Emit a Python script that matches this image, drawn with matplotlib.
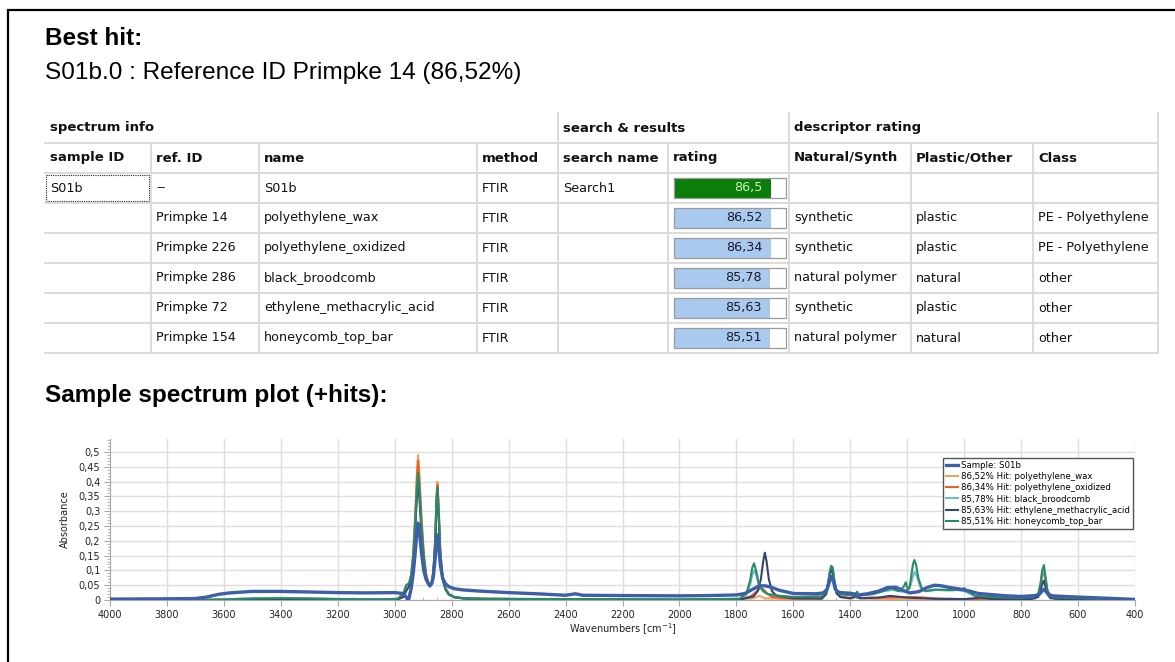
import matplotlib
matplotlib.use("Agg")
import matplotlib.pyplot as plt
from matplotlib.patches import Rectangle
from matplotlib.ticker import MultipleLocator, FuncFormatter

W, H = 1175, 662

# ---- report text / table data ----
best_hit_title = "Best hit:"
best_hit_line = "S01b.0 : Reference ID Primpke 14 (86,52%)"
plot_title = "Sample spectrum plot (+hits):"

group_headers = ["spectrum info", "search & results", "descriptor rating"]
col_headers = ["sample ID", "ref. ID", "name", "method", "search name", "rating",
               "Natural/Synth", "Plastic/Other", "Class"]
sample_ids = ["S01b", "", "", "", "", ""]
ref_ids = ["--", "Primpke 14", "Primpke 226", "Primpke 286", "Primpke 72", "Primpke 154"]
names = ["S01b", "polyethylene_wax", "polyethylene_oxidized", "black_broodcomb",
         "ethylene_methacrylic_acid", "honeycomb_top_bar"]
methods = ["FTIR", "FTIR", "FTIR", "FTIR", "FTIR", "FTIR"]
search_names = ["Search1", "", "", "", "", ""]
ratings = [86.5, 86.52, 86.34, 85.78, 85.63, 85.51]
rating_labels = ["86,5", "86,52", "86,34", "85,78", "85,63", "85,51"]
natural_synth = ["", "synthetic", "synthetic", "natural polymer", "synthetic", "natural polymer"]
plastic_other = ["", "plastic", "plastic", "natural", "plastic", "natural"]
classes = ["", "PE - Polyethylene", "PE - Polyethylene", "other", "other", "other"]

# ---- spectra (wavenumber, absorbance) ----
sample_wn = [4000, 3800, 3700, 3660, 3620, 3580, 3500, 3400, 3300, 3200, 3100, 3000,
             2990, 2970, 2960, 2952, 2942, 2935, 2928, 2922, 2918, 2913, 2906, 2898, 2890,
             2882, 2876, 2870, 2864, 2858, 2853, 2850, 2846, 2840, 2832, 2822, 2810, 2790,
             2760, 2700, 2600, 2500, 2400, 2365, 2340, 2200, 2000, 1900, 1800, 1770, 1745,
             1720, 1700, 1680, 1650, 1600, 1520, 1495, 1482, 1474, 1467, 1460, 1452, 1440,
             1420, 1400, 1385, 1376, 1365, 1340, 1300, 1270, 1240, 1215, 1190, 1160, 1130,
             1105, 1080, 1050, 1020, 1000, 980, 950, 900, 850, 800, 750, 735, 726, 720,
             714, 705, 690, 650, 600, 500, 400]
sample_abs = [0.003, 0.004, 0.005, 0.010, 0.019, 0.024, 0.029, 0.029, 0.027, 0.025, 0.024,
              0.025, 0.024, 0.022, 0.01, -0.003, 0.04, 0.09, 0.16, 0.23, 0.26, 0.23, 0.16,
              0.10, 0.07, 0.055, 0.05, 0.055, 0.08, 0.14, 0.20, 0.22, 0.19, 0.12, 0.075,
              0.055, 0.045, 0.038, 0.034, 0.030, 0.025, 0.021, 0.016, 0.021, 0.016, 0.015,
              0.014, 0.015, 0.017, 0.022, 0.035, 0.048, 0.048, 0.044, 0.033, 0.022, 0.021,
              0.024, 0.035, 0.06, 0.08, 0.065, 0.035, 0.026, 0.024, 0.023, 0.02, 0.01,
              0.018, 0.021, 0.03, 0.042, 0.043, 0.032, 0.024, 0.028, 0.042, 0.05, 0.048,
              0.042, 0.038, 0.034, 0.03, 0.022, 0.018, 0.014, 0.012, 0.015, 0.02, 0.03,
              0.036, 0.03, 0.02, 0.014, 0.012, 0.010, 0.006, 0.002]

wax_wn = [4000, 3100, 3000, 2990, 2970, 2960, 2950, 2942, 2935, 2928, 2922, 2918, 2913,
          2906, 2898, 2890, 2882, 2876, 2870, 2864, 2858, 2853, 2850, 2846, 2840, 2832,
          2822, 2810, 2790, 2760, 2700, 2000, 1780, 1740, 1720, 1700, 1600, 1500, 1485,
          1478, 1472, 1467, 1462, 1456, 1448, 1435, 1400, 1385, 1378, 1370, 1300, 1000,
          800, 760, 740, 732, 726, 720, 715, 708, 698, 680, 600, 400]
wax_abs = [0.0, 0.0, 0.001, 0.002, 0.012, 0.035, 0.05, 0.09, 0.16, 0.29, 0.43, 0.49, 0.42,
           0.28, 0.16, 0.09, 0.06, 0.05, 0.06, 0.10, 0.21, 0.36, 0.40, 0.33, 0.17, 0.08,
           0.04, 0.02, 0.01, 0.006, 0.004, 0.0, 0.002, 0.006, 0.014, 0.006, 0.002, 0.004,
           0.02, 0.05, 0.09, 0.11, 0.105, 0.06, 0.025, 0.01, 0.004, 0.008, 0.012, 0.005,
           0.003, 0.002, 0.004, 0.006, 0.015, 0.045, 0.085, 0.10, 0.07, 0.03, 0.01, 0.005,
           0.002, 0.0]

oxid_wn = [4000, 3100, 3000, 2990, 2970, 2960, 2950, 2942, 2935, 2928, 2922, 2918, 2913,
           2906, 2898, 2890, 2882, 2876, 2870, 2864, 2858, 2853, 2850, 2846, 2840, 2832,
           2822, 2810, 2790, 2760, 2700, 2000, 1790, 1750, 1735, 1722, 1714, 1705, 1692,
           1675, 1600, 1500, 1485, 1478, 1472, 1467, 1462, 1456, 1448, 1435, 1400, 1385,
           1378, 1370, 1300, 1250, 1200, 1150, 1100, 1000, 800, 760, 740, 732, 726, 720,
           715, 708, 698, 680, 600, 400]
oxid_abs = [0.0, 0.0, 0.001, 0.002, 0.012, 0.034, 0.048, 0.086, 0.155, 0.28, 0.41, 0.47,
            0.40, 0.27, 0.155, 0.087, 0.058, 0.05, 0.06, 0.10, 0.20, 0.35, 0.39, 0.32,
            0.165, 0.078, 0.04, 0.02, 0.01, 0.006, 0.004, 0.0, 0.003, 0.012, 0.024, 0.036,
            0.04, 0.036, 0.022, 0.01, 0.004, 0.005, 0.02, 0.05, 0.092, 0.115, 0.108, 0.062,
            0.026, 0.012, 0.006, 0.01, 0.014, 0.007, 0.008, 0.009, 0.01, 0.009, 0.005,
            0.003, 0.004, 0.006, 0.014, 0.04, 0.08, 0.095, 0.068, 0.03, 0.01, 0.005, 0.002,
            0.0]

brood_wn = [4000, 3700, 3600, 3500, 3400, 3300, 3200, 3050, 2990, 2970, 2960, 2950, 2942,
            2935, 2928, 2922, 2918, 2913, 2906, 2898, 2890, 2882, 2876, 2870, 2864, 2858,
            2853, 2850, 2846, 2840, 2832, 2822, 2810, 2790, 2760, 2700, 2000, 1790, 1765,
            1752, 1744, 1737, 1730, 1720, 1705, 1690, 1650, 1600, 1500, 1485, 1478, 1472,
            1467, 1462, 1456, 1448, 1435, 1400, 1378, 1365, 1320, 1280, 1250, 1220, 1198,
            1188, 1180, 1174, 1166, 1155, 1140, 1120, 1100, 1060, 1030, 1000, 960, 900, 800,
            760, 740, 732, 726, 720, 715, 708, 698, 680, 600, 400]
brood_abs = [0.0, 0.0, 0.002, 0.006, 0.007, 0.006, 0.004, 0.002, 0.004, 0.02, 0.045, 0.05,
             0.08, 0.14, 0.25, 0.37, 0.42, 0.36, 0.24, 0.14, 0.08, 0.055, 0.048, 0.058,
             0.095, 0.19, 0.33, 0.37, 0.30, 0.155, 0.075, 0.038, 0.02, 0.01, 0.006, 0.004,
             0.002, 0.004, 0.018, 0.05, 0.085, 0.10, 0.085, 0.045, 0.028, 0.02, 0.014,
             0.01, 0.012, 0.025, 0.055, 0.09, 0.11, 0.105, 0.065, 0.03, 0.02, 0.016, 0.022,
             0.015, 0.02, 0.03, 0.034, 0.028, 0.035, 0.05, 0.08, 0.095, 0.08, 0.045, 0.03,
             0.03, 0.034, 0.032, 0.034, 0.03, 0.012, 0.01, 0.008, 0.01, 0.018, 0.05, 0.09,
             0.105, 0.075, 0.032, 0.012, 0.008, 0.006, 0.001]

ema_wn = [4000, 3400, 3000, 2990, 2970, 2960, 2950, 2942, 2935, 2928, 2922, 2918, 2913,
          2906, 2898, 2890, 2882, 2876, 2870, 2864, 2858, 2853, 2850, 2846, 2840, 2832,
          2822, 2810, 2790, 2760, 2700, 2000, 1780, 1740, 1725, 1714, 1706, 1700, 1694,
          1686, 1675, 1660, 1600, 1500, 1485, 1478, 1472, 1467, 1462, 1456, 1448, 1435,
          1400, 1378, 1365, 1300, 1260, 1200, 1100, 1000, 940, 900, 800, 760, 740, 732,
          726, 720, 715, 708, 698, 680, 600, 400]
ema_abs = [0.0, 0.0, 0.001, 0.002, 0.01, 0.03, 0.045, 0.075, 0.13, 0.24, 0.35, 0.40, 0.34,
           0.23, 0.13, 0.075, 0.052, 0.045, 0.055, 0.09, 0.18, 0.32, 0.36, 0.29, 0.15,
           0.07, 0.036, 0.018, 0.009, 0.005, 0.004, 0.0, 0.003, 0.012, 0.03, 0.07, 0.13,
           0.16, 0.13, 0.07, 0.03, 0.015, 0.006, 0.005, 0.02, 0.048, 0.085, 0.10, 0.095,
           0.055, 0.022, 0.01, 0.006, 0.014, 0.006, 0.008, 0.014, 0.008, 0.004, 0.003,
           0.008, 0.003, 0.002, 0.004, 0.01, 0.03, 0.055, 0.065, 0.045, 0.02, 0.007, 0.004,
           0.002, 0.0]

honey_wn = [4000, 3700, 3600, 3500, 3400, 3300, 3200, 3050, 2990, 2970, 2960, 2950, 2942,
            2935, 2928, 2922, 2918, 2913, 2906, 2898, 2890, 2882, 2876, 2870, 2864, 2858,
            2853, 2850, 2846, 2840, 2832, 2822, 2810, 2790, 2760, 2700, 2000, 1790, 1765,
            1752, 1744, 1738, 1731, 1720, 1705, 1690, 1650, 1600, 1500, 1485, 1478, 1472,
            1467, 1462, 1456, 1448, 1435, 1400, 1382, 1376, 1368, 1320, 1280, 1255, 1230,
            1212, 1205, 1198, 1192, 1186, 1180, 1175, 1169, 1161, 1150, 1135, 1110, 1080,
            1040, 1010, 1000, 990, 960, 900, 800, 760, 740, 732, 726, 720, 715, 708, 698,
            680, 600, 400]
honey_abs = [0.0, 0.0, 0.002, 0.005, 0.006, 0.005, 0.003, 0.002, 0.004, 0.022, 0.05, 0.057,
             0.085, 0.145, 0.26, 0.38, 0.43, 0.37, 0.25, 0.145, 0.082, 0.056, 0.048, 0.058,
             0.098, 0.195, 0.34, 0.38, 0.31, 0.16, 0.076, 0.04, 0.02, 0.01, 0.006, 0.004,
             0.002, 0.004, 0.022, 0.065, 0.11, 0.124, 0.1, 0.05, 0.03, 0.02, 0.014, 0.01,
             0.012, 0.026, 0.058, 0.095, 0.115, 0.11, 0.068, 0.03, 0.02, 0.016, 0.02, 0.028,
             0.016, 0.02, 0.032, 0.04, 0.03, 0.045, 0.06, 0.035, 0.04, 0.08, 0.12, 0.135,
             0.12, 0.075, 0.042, 0.03, 0.035, 0.035, 0.033, 0.036, 0.04, 0.03, 0.014, 0.01,
             0.008, 0.01, 0.02, 0.055, 0.1, 0.118, 0.085, 0.035, 0.012, 0.008, 0.006, 0.001]

hit_series = [
    (wax_wn, wax_abs, "#f4a35e", "86,52% Hit: polyethylene_wax"),
    (oxid_wn, oxid_abs, "#e4622a", "86,34% Hit: polyethylene_oxidized"),
    (brood_wn, brood_abs, "#74bcc4", "85,78% Hit: black_broodcomb"),
    (ema_wn, ema_abs, "#34466e", "85,63% Hit: ethylene_methacrylic_acid"),
    (honey_wn, honey_abs, "#2a8a68", "85,51% Hit: honeycomb_top_bar"),
]

# ---- figure / page ----
fig = plt.figure(figsize=(W / 100, H / 100), dpi=100)
fig.patch.set_facecolor("white")
pg = fig.add_axes([0, 0, 1, 1])
pg.set_xlim(0, W)
pg.set_ylim(H, 0)
pg.axis("off")

# page border (left + top)
pg.plot([8, 8, W], [H, 10, 10], color="black", lw=1.6, solid_joinstyle="miter")

pg.text(45, 45, best_hit_title, fontsize=17.5, fontweight="bold",
        family="Liberation Sans", va="baseline")
pg.text(45, 79, best_hit_line, fontsize=17.6, family="Liberation Sans", va="baseline")
pg.text(45, 402, plot_title, fontsize=17.5, fontweight="bold",
        family="Liberation Sans", va="baseline")

# table geometry
col_x = [45, 151, 259, 477, 558, 668, 789, 911, 1033, 1158]
group_cols = [0, 4, 6]
row_top = 113
row_h = 30
n_rows = len(names)
grid_c = "#d9d9d9"
tfont = dict(family="DejaVu Sans", fontsize=9.2, color="#111111", va="center")
bfont = dict(family="DejaVu Sans", fontsize=9.5, fontweight="bold", color="#111111", va="center")

# horizontal lines
for k in range(n_rows + 2):
    y = row_top + row_h * (k + 1)
    pg.plot([col_x[0], col_x[-1]], [y, y], color=grid_c, lw=1.3)
# vertical lines
bottom = row_top + row_h * (n_rows + 2)
for i, x in enumerate(col_x[1:], start=1):
    y0 = row_top if (i in (4, 6, 9)) else row_top + row_h
    pg.plot([x, x], [y0, bottom], color=grid_c, lw=1.3)

# group headers
for g, ci in zip(group_headers, group_cols):
    pg.text(col_x[ci] + 5, row_top + row_h / 2, g, **bfont)
# column headers
for ci, h in enumerate(col_headers):
    pg.text(col_x[ci] + 5, row_top + row_h * 1.5, h, **bfont)

# data rows
columns = [sample_ids, ref_ids, names, methods, search_names, None,
           natural_synth, plastic_other, classes]
for r in range(n_rows):
    yc = row_top + row_h * (r + 2.5)
    for ci, col in enumerate(columns):
        if col is None:
            continue
        pg.text(col_x[ci] + 5, yc, col[r], **tfont)
    # rating bar
    bx0, bx1 = col_x[5] + 6, col_x[6] - 3
    bw = bx1 - bx0
    bh = 20
    fill = "#0a7d0a" if r == 0 else "#a9caee"
    tcol = "#c6f2bc" if r == 0 else "#1a1a2e"
    pg.add_patch(Rectangle((bx0, yc - bh / 2), bw * ratings[r] / 100, bh,
                           facecolor=fill, edgecolor="none"))
    pg.add_patch(Rectangle((bx0, yc - bh / 2), bw, bh, facecolor="none",
                           edgecolor="#9a9a9a", lw=0.9))
    pg.text(bx0 + bw * ratings[r] / 100 - 8, yc, rating_labels[r], ha="right",
            family="DejaVu Sans", fontsize=9.2, color=tcol, va="center")

# focus rectangle around first sample ID cell
fy = row_top + row_h * 2
pg.add_patch(Rectangle((col_x[0] + 1, fy + 2), col_x[1] - col_x[0] - 3, row_h - 4,
                       facecolor="none", edgecolor="#222222", lw=0.8, ls=(0, (1, 1))))

# ---- spectrum plot ----
ax = fig.add_axes([110 / W, 1 - 600 / H, 1025 / W, 161 / H])
ax.set_facecolor("none")
for i, (wn, ab, c, lab) in enumerate(hit_series):
    ax.plot(wn, ab, color=c, lw=1.5, label=lab, zorder=3)
ax.plot(sample_wn, sample_abs, color="#3d5ea8", lw=2.4, label="Sample: S01b", zorder=4)

ax.set_xlim(4000, 400)
ax.set_ylim(0, 0.544)
ax.xaxis.set_major_locator(MultipleLocator(200))
ax.xaxis.set_minor_locator(MultipleLocator(50))
ax.yaxis.set_major_locator(MultipleLocator(0.05))
ax.yaxis.set_minor_locator(MultipleLocator(0.01))
ax.yaxis.set_major_formatter(FuncFormatter(
    lambda v, p: ("%.2f" % v).rstrip("0").rstrip(".").replace(".", ",")))
ax.grid(True, which="major", color="#dedede", lw=1.0)
ax.set_axisbelow(True)
for s in ["top", "right"]:
    ax.spines[s].set_visible(False)
for s in ["left", "bottom"]:
    ax.spines[s].set_color("#a8a8a8")
ax.tick_params(which="both", labelsize=7, colors="#a8a8a8", labelcolor="#222222")
ax.tick_params(axis="y", which="major", length=4, pad=3)
ax.tick_params(axis="y", which="minor", length=2.5)
ax.tick_params(axis="x", which="major", length=4, pad=3)
ax.tick_params(axis="x", which="minor", length=2.5, direction="in")
ax.set_ylabel("Absorbance", fontsize=7, color="#222222", labelpad=6)
ax.set_xlabel(r"Wavenumbers [cm$^{-1}$]", fontsize=7, color="#222222", labelpad=1)

handles, labels = ax.get_legend_handles_labels()
order = [5, 0, 1, 2, 3, 4]
leg = ax.legend([handles[i] for i in order], [labels[i] for i in order],
                loc="upper right", bbox_to_anchor=(0.998, 0.882), fontsize=6.2,
                frameon=True, fancybox=False, framealpha=1, edgecolor="#555555",
                handlelength=1.3, handletextpad=0.4, labelspacing=0.25,
                borderpad=0.35, borderaxespad=0)
leg.get_frame().set_linewidth(1.0)

fig.savefig("out.png", dpi=100)
